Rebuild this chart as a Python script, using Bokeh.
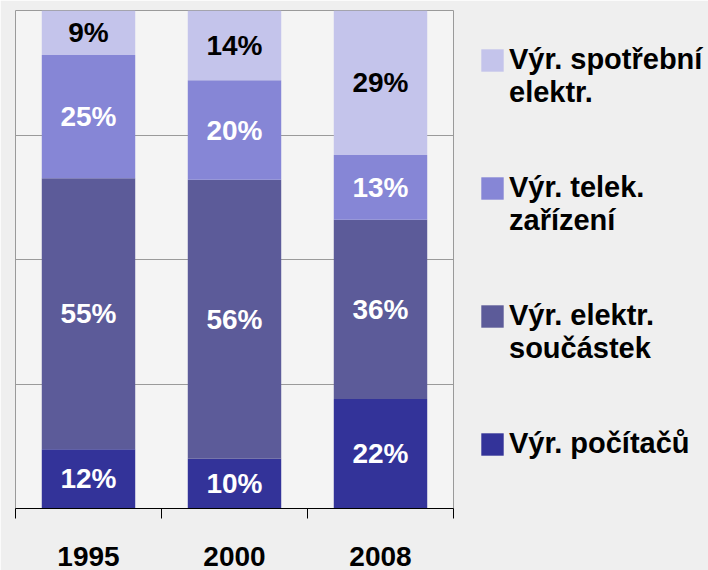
from bokeh.plotting import figure
from bokeh.models import ColumnDataSource, Legend, LegendItem, FixedTicker, Range1d
from bokeh.embed import file_html
from bokeh.resources import INLINE
from bokeh.core.properties import value

# ---- data ----
years = ["1995", "2000", "2008"]
series_names = ["Výr. počítačů", "Výr. elektr. součástek", "Výr. telek. zařízení", "Výr. spotřební elektr."]
legend_line1 = ["Výr. počítačů", "Výr. elektr.", "Výr. telek.", "Výr. spotřební"]
legend_line2 = [" ", "součástek", "zařízení", "elektr."]
pocitacu = [12, 10, 22]
soucastek = [55, 56, 36]
telek = [25, 20, 13]
spotrebni = [9, 14, 29]

colors = ["#333399", "#5c5b99", "#8686d6", "#c4c4eb"]
label_colors = ["white", "white", "white", "black"]
FONT = "Liberation Sans"

values = [pocitacu, soucastek, telek, spotrebni]
xs = [i + 0.5 for i in range(len(years))]
totals = [sum(v[i] for v in values) for i in range(len(years))]

p = figure(frame_width=438, frame_height=498, x_range=Range1d(0, len(years)), y_range=Range1d(0, 100),
           output_backend="svg", toolbar_location=None,
           min_border_left=15, min_border_right=255, min_border_top=10, min_border_bottom=62)
p.background_fill_color = "#f4f4f4"
p.border_fill_color = "#efefef"
p.outline_line_color = "#9a9a9a"

renderers = []
bottom = [0.0] * len(years)
lbl_x, lbl_y, lbl_t, lbl_c = [], [], [], []
for k, vals in enumerate(values):
    pct = [vals[i] / totals[i] * 100 for i in range(len(years))]
    top = [bottom[i] + pct[i] for i in range(len(years))]
    src = ColumnDataSource(dict(x=xs, bottom=bottom, top=top))
    r = p.vbar(x="x", width=0.64, bottom="bottom", top="top", source=src,
               fill_color=colors[k], line_color=None)
    renderers.append(r)
    for i in range(len(years)):
        lbl_x.append(xs[i])
        lbl_y.append((bottom[i] + top[i]) / 2)
        lbl_t.append(f"{vals[i]}%")
        lbl_c.append(label_colors[k])
    bottom = top

lsrc = ColumnDataSource(dict(x=lbl_x, y=lbl_y, t=lbl_t, c=lbl_c))
p.text(x="x", y="y", text="t", text_color="c", source=lsrc, text_align="center",
       text_baseline="middle", text_font=value(FONT), text_font_style="bold",
       text_font_size="28px")

p.xgrid.visible = False
p.ygrid.ticker = FixedTicker(ticks=[0, 25, 50, 75, 100])
p.ygrid.grid_line_color = "#9a9a9a"
p.ygrid.level = "underlay"
p.yaxis.visible = False

ax = p.xaxis[0]
ax.ticker = FixedTicker(ticks=xs, minor_ticks=list(range(len(years) + 1)))
ax.major_label_overrides = {xs[i]: years[i] for i in range(len(years))}
ax.axis_line_color = "black"
ax.major_tick_line_color = None
ax.major_tick_in = 0
ax.major_tick_out = 0
ax.minor_tick_line_color = "black"
ax.minor_tick_in = 0
ax.minor_tick_out = 10
ax.major_label_standoff = 28
ax.major_label_text_font = FONT
ax.major_label_text_font_style = "bold"
ax.major_label_text_font_size = "28px"
ax.major_label_text_color = "black"

# three-line labels (blank, line 1, line 2) so the square sits beside the first line
order = [3, 2, 1, 0]
items = [LegendItem(label=" \n" + legend_line1[k] + "\n" + legend_line2[k], renderers=[renderers[k]])
         for k in order]
legend = Legend(items=items, location=(25, 15), border_line_color=None,
                background_fill_alpha=0, glyph_width=28, glyph_height=28,
                label_text_font=FONT, label_text_font_style="bold", label_text_color="black",
                label_text_font_size="29px", label_text_line_height=1.24,
                label_standoff=3, spacing=29, padding=0, margin=0)
p.add_layout(legend, "right")

open("out.html", "w").write(file_html(p, INLINE))
